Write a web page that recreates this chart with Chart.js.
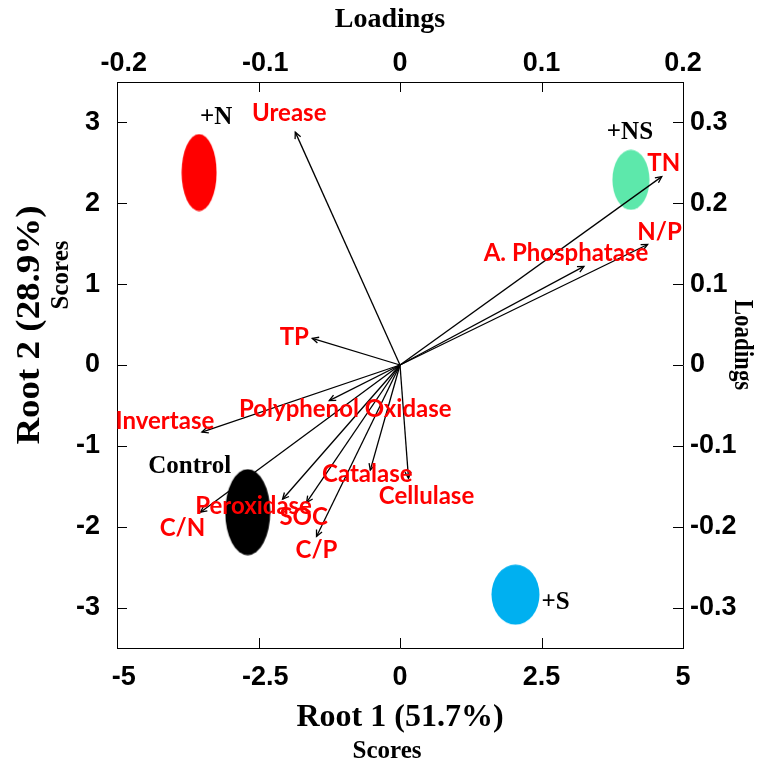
<!DOCTYPE html>
<html>
<head>
<meta charset="utf-8">
<script src="https://cdn.jsdelivr.net/npm/chart.js@4.4.0/dist/chart.umd.min.js"></script>
<style>
  html, body { margin: 0; padding: 0; background: #fff; }
  #wrap { width: 758px; height: 774px; }
</style>
</head>
<body>
<div id="wrap"><canvas id="biplot" width="758" height="774"></canvas></div>
<script>
"use strict";

// treatment scores (Root 1, Root 2)
var groupNames = ["+N", "+NS", "Control", "+S"];
var groupRoot1 = [-3.55, 4.08, -2.69, 2.04];
var groupRoot2 = [2.38, 2.29, -1.82, -2.84];

// variable loadings
var varNames = ["Urease", "TN", "N/P", "A. Phosphatase", "TP", "Invertase",
  "Polyphenol Oxidase", "Peroxidase", "C/N", "SOC", "C/P", "Catalase", "Cellulase"];
var varLoad1 = [-0.074, 0.185, 0.175, 0.13, -0.062, -0.14,
  -0.05, -0.083, -0.141, -0.066, -0.059, -0.021, 0.006];
var varLoad2 = [0.288, 0.233, 0.149, 0.122, 0.033, -0.083,
  -0.044, -0.166, -0.182, -0.17, -0.212, -0.13, -0.14];

// tick labels
var scoreXTicks = [-5, -2.5, 0, 2.5, 5];
var scoreYTicks = [-3, -2, -1, 0, 1, 2, 3];
var loadXTicks = [-0.2, -0.1, 0, 0.1, 0.2];
var loadYTicks = [-0.3, -0.2, -0.1, 0, 0.1, 0.2, 0.3];

// look of the marks
var groupColors = ["#ff0000", "#5de8ab", "#000000", "#00b0f0"];
var groupSizes = [[36, 78], [38, 61], [46, 87], [49, 61]];
var groupLabelOffsets = [[17, -55], [-1, -47], [-58, -46], [40, 8]];
var varLabelOffsets = [[-6, -19], [2, -13], [12, -12], [-18, -13], [-18, -1], [-37, -11],
  [16, 9], [-29, 7], [-18, 16], [-3, 15], [0, 14], [-3, 4], [18, 18]];

var serif = "'Liberation Serif', 'Times New Roman', serif";
var sans = "'Liberation Sans', Arial, sans-serif";

function ellipseImage(w, h, color) {
  let c = document.createElement("canvas");
  c.width = w;
  c.height = h;
  let g = c.getContext("2d");
  g.fillStyle = color;
  g.beginPath();
  g.ellipse(w / 2, h / 2, w / 2 - 0.5, h / 2 - 0.5, 0, 0, Math.PI * 2);
  g.fill();
  return c;
}

function fmtTick(v) {
  if (Math.abs(v) < 1e-9) return "0";
  return String(parseFloat(v.toFixed(2)));
}

// horizontal axes centre the digits, the minus sign hangs to the left
function fmtTickX(v) {
  let t = fmtTick(v);
  return v < -1e-9 ? "\u2002" + t : t;
}

function keepTicks(list) {
  return function (scale) {
    scale.ticks = list.map(function (v) { return { value: v }; });
  };
}

let groupData = groupNames.map(function (n, i) {
  return { x: groupRoot1[i], y: groupRoot2[i] };
});
let groupStyles = groupNames.map(function (n, i) {
  return ellipseImage(groupSizes[i][0], groupSizes[i][1], groupColors[i]);
});

let datasets = [{
  label: "groups",
  type: "scatter",
  data: groupData,
  xAxisID: "x",
  yAxisID: "y",
  pointStyle: groupStyles,
  pointRadius: 1,
  order: 10,
}];

varNames.forEach(function (name, i) {
  datasets.push({
    label: name,
    type: "line",
    data: [{ x: 0, y: 0 }, { x: varLoad1[i], y: varLoad2[i] }],
    xAxisID: "x2",
    yAxisID: "y2",
    borderColor: "#000",
    borderWidth: 1.3,
    pointRadius: 0,
    fill: false,
    order: 1,
  });
});

// frame ticks pointing inward, arrow heads, labels and axis titles
const biplotDecor = {
  id: "biplotDecor",
  afterDatasetsDraw(chart) {
    let ctx = chart.ctx;
    let a = chart.chartArea;
    let s = chart.scales;
    ctx.save();

    ctx.strokeStyle = "#000";
    ctx.lineWidth = 1;
    ctx.beginPath();
    scoreXTicks.forEach(function (v) {
      let px = Math.round(s.x.getPixelForValue(v)) + 0.5;
      ctx.moveTo(px, a.bottom);
      ctx.lineTo(px, a.bottom - 10);
    });
    loadXTicks.forEach(function (v) {
      let px = Math.round(s.x2.getPixelForValue(v)) + 0.5;
      ctx.moveTo(px, a.top);
      ctx.lineTo(px, a.top + 10);
    });
    scoreYTicks.forEach(function (v) {
      let py = Math.round(s.y.getPixelForValue(v)) + 0.5;
      ctx.moveTo(a.left, py);
      ctx.lineTo(a.left + 10, py);
    });
    loadYTicks.forEach(function (v) {
      let py = Math.round(s.y2.getPixelForValue(v)) + 0.5;
      ctx.moveTo(a.right, py);
      ctx.lineTo(a.right - 10, py);
    });
    ctx.stroke();

    // arrow heads
    ctx.lineWidth = 1.3;
    varNames.forEach(function (name, i) {
      let x0 = s.x2.getPixelForValue(0);
      let y0 = s.y2.getPixelForValue(0);
      let x1 = s.x2.getPixelForValue(varLoad1[i]);
      let y1 = s.y2.getPixelForValue(varLoad2[i]);
      let ang = Math.atan2(y1 - y0, x1 - x0);
      let len = 7;
      ctx.beginPath();
      ctx.moveTo(x1 - len * Math.cos(ang - 0.45), y1 - len * Math.sin(ang - 0.45));
      ctx.lineTo(x1, y1);
      ctx.lineTo(x1 - len * Math.cos(ang + 0.45), y1 - len * Math.sin(ang + 0.45));
      ctx.stroke();
    });

    // variable names
    ctx.fillStyle = "#ff0000";
    ctx.font = "bold 24px Lato, 'Open Sans', sans-serif";
    ctx.textAlign = "center";
    ctx.textBaseline = "middle";
    varNames.forEach(function (name, i) {
      let x1 = s.x2.getPixelForValue(varLoad1[i]);
      let y1 = s.y2.getPixelForValue(varLoad2[i]);
      ctx.fillText(name, x1 + varLabelOffsets[i][0], y1 + varLabelOffsets[i][1]);
    });

    // treatment names
    ctx.fillStyle = "#000";
    ctx.font = "bold 25px " + serif;
    groupNames.forEach(function (name, i) {
      let gx = s.x.getPixelForValue(groupRoot1[i]);
      let gy = s.y.getPixelForValue(groupRoot2[i]);
      ctx.fillText(name, gx + groupLabelOffsets[i][0], gy + groupLabelOffsets[i][1]);
    });

    // axis titles
    let cx = (a.left + a.right) / 2;
    let cy = (a.top + a.bottom) / 2;
    ctx.font = "bold 28px " + serif;
    ctx.fillText("Loadings", cx - 10, 20);
    ctx.font = "bold 32px " + serif;
    ctx.fillText("Root 1 (51.7%)", cx, 718);
    ctx.font = "bold 25px " + serif;
    ctx.fillText("Scores", cx - 13, 752);

    ctx.save();
    ctx.translate(30, cy - 40);
    ctx.rotate(-Math.PI / 2);
    ctx.scale(1.12, 1);
    ctx.font = "bold 33px " + serif;
    ctx.fillText("Root 2 (28.9%)", 0, 0);
    ctx.restore();

    ctx.save();
    ctx.translate(62, cy - 90);
    ctx.rotate(-Math.PI / 2);
    ctx.font = "bold 25px " + serif;
    ctx.fillText("Scores", 0, 0);
    ctx.restore();

    ctx.save();
    ctx.translate(742, cy - 20);
    ctx.rotate(Math.PI / 2);
    ctx.scale(0.85, 1);
    ctx.font = "bold 27px " + serif;
    ctx.fillText("Loadings", 0, 0);
    ctx.restore();

    ctx.restore();
  },
};

let tickFont = { family: sans, size: 27, weight: "bold" };
let edge = { display: true, color: "#000", width: 1 };

new Chart(document.getElementById("biplot"), {
  data: { datasets: datasets },
  plugins: [biplotDecor],
  options: {
    responsive: false,
    animation: false,
    events: [],
    layout: { padding: 0 },
    plugins: {
      legend: { display: false },
      tooltip: { enabled: false },
    },
    scales: {
      x: {
        type: "linear",
        position: "bottom",
        min: -5,
        max: 5,
        afterBuildTicks: keepTicks(scoreXTicks),
        afterFit: function (scale) { scale.height = 126; },
        grid: { display: false, drawTicks: false },
        border: edge,
        ticks: { font: tickFont, color: "#000", padding: 13, maxRotation: 0, callback: fmtTickX },
      },
      x2: {
        type: "linear",
        position: "top",
        min: -0.2,
        max: 0.2,
        afterBuildTicks: keepTicks(loadXTicks),
        afterFit: function (scale) { scale.height = 82; },
        grid: { display: false, drawTicks: false },
        border: edge,
        ticks: { font: tickFont, color: "#000", padding: 2, maxRotation: 0, callback: fmtTickX },
      },
      y: {
        type: "linear",
        position: "left",
        min: -3.5,
        max: 3.5,
        afterBuildTicks: keepTicks(scoreYTicks),
        afterFit: function (scale) { scale.width = 117; },
        grid: { display: false, drawTicks: false },
        border: edge,
        ticks: { font: tickFont, color: "#000", padding: 17, callback: fmtTick },
      },
      y2: {
        type: "linear",
        position: "right",
        min: -0.35,
        max: 0.35,
        afterBuildTicks: keepTicks(loadYTicks),
        afterFit: function (scale) { scale.width = 75; },
        grid: { display: false, drawTicks: false },
        border: edge,
        ticks: { font: tickFont, color: "#000", padding: 7, callback: fmtTick },
      },
    },
  },
});
</script>
</body>
</html>
